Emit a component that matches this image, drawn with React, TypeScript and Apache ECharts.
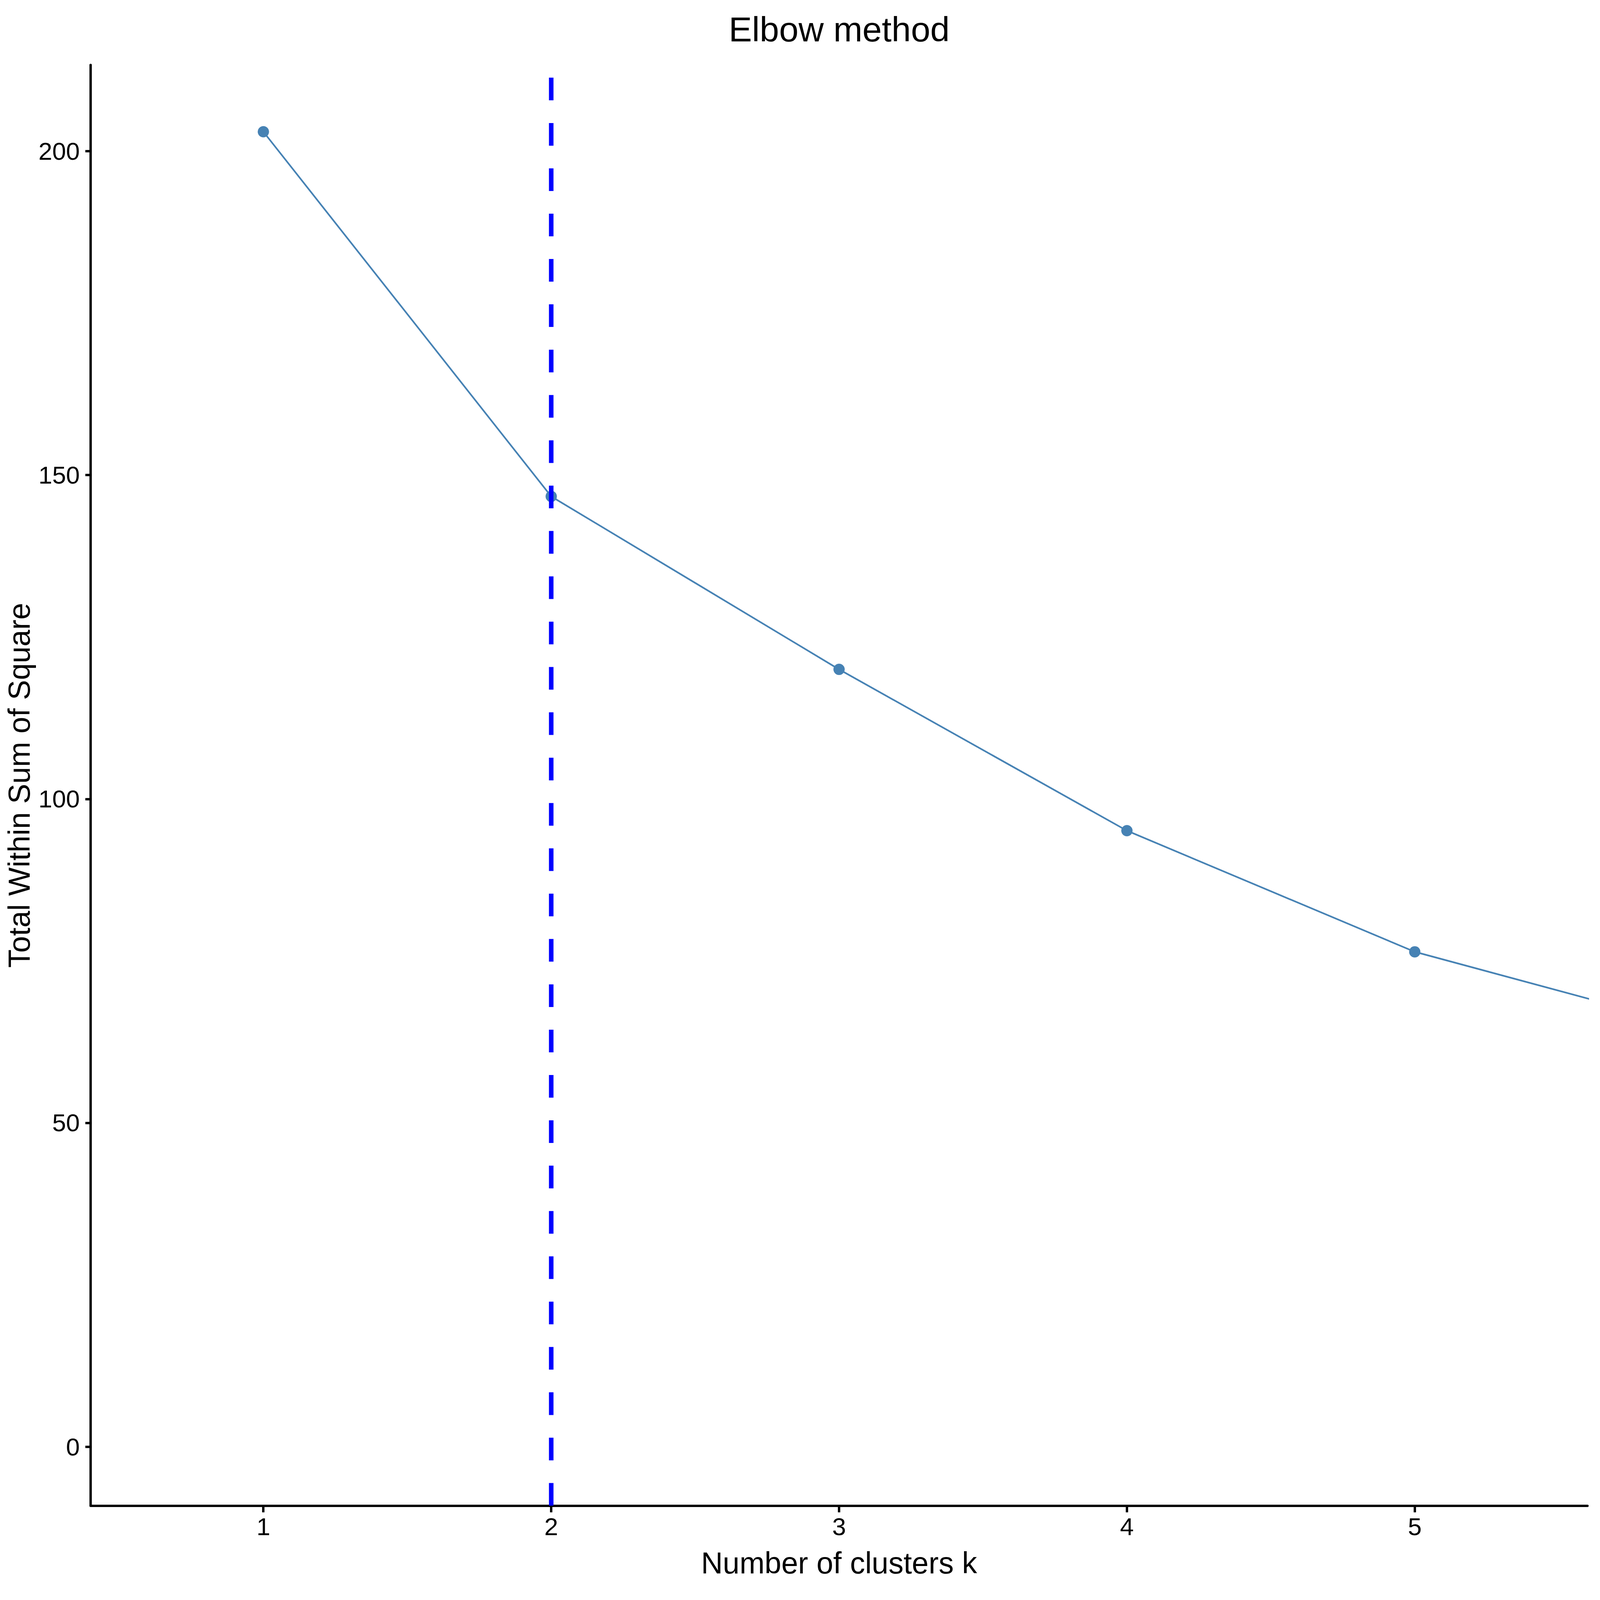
import React, { useEffect, useRef } from "react";
import * as echarts from "echarts";

const clusters = [1, 2, 3, 4, 5, 6];
const totalWithinSS = [203.0, 146.7, 120.0, 95.1, 76.4, 64.4];
const xTicks = [1, 2, 3, 4, 5];
const yTicks = [0, 50, 100, 150, 200];
const optimalK = 2;
const xRange = [0.4, 5.6];
const yRange = [-9.1, 213.3];

const FONT = "'Liberation Sans', Arial, Helvetica, sans-serif";
const BASE_W = 6000;
const BASE_H = 4800;

export default function App() {
  const ref = useRef<HTMLDivElement>(null);
  const W = Math.min(BASE_W, window.innerWidth || BASE_W);
  const H = Math.min(BASE_H, window.innerHeight || BASE_H);
  useEffect(() => {
    if (!ref.current) return;
    const sx = W / BASE_W;
    const sy = H / BASE_H;
    const f = Math.sqrt(sx * sy);
    const chart = echarts.init(ref.current, null, { renderer: "svg" });
    const lineData = clusters.map((k, i) => [k, totalWithinSS[i]]);
    chart.setOption({
      animation: false,
      backgroundColor: "#ffffff",
      textStyle: { fontFamily: FONT },
      title: {
        text: "Elbow method",
        left: 3147 * sx,
        top: 36 * sy,
        textAlign: "center",
        padding: 0,
        textStyle: { fontFamily: FONT, fontSize: 117 * f, fontWeight: "normal", color: "#000" },
      },
      grid: { left: 340 * sx, right: 47 * sx, top: 195 * sy, bottom: 283 * sy, containLabel: false },
      xAxis: {
        type: "value",
        min: xRange[0],
        max: xRange[1],
        name: "Number of clusters k",
        nameLocation: "middle",
        nameGap: 126 * sy,
        nameTextStyle: { fontFamily: FONT, fontSize: 101 * f, color: "#000" },
        axisLine: { show: true, onZero: false, lineStyle: { color: "#000", width: 8 * f } },
        axisTick: { show: true, length: 20 * sy, lineStyle: { color: "#000", width: 8 * f }, customValues: xTicks },
        axisLabel: { show: true, margin: 26 * sy, fontFamily: FONT, fontSize: 83 * f, color: "#000", customValues: xTicks },
        splitLine: { show: false },
      },
      yAxis: {
        type: "value",
        min: yRange[0],
        max: yRange[1],
        name: "Total Within Sum of Square",
        nameLocation: "middle",
        nameGap: 191 * sx,
        nameTextStyle: { fontFamily: FONT, fontSize: 101 * f, color: "#000" },
        axisLine: { show: true, onZero: false, lineStyle: { color: "#000", width: 8 * f } },
        axisTick: { show: true, length: 20 * sx, lineStyle: { color: "#000", width: 8 * f }, customValues: yTicks },
        axisLabel: { show: true, margin: 41 * sx, fontFamily: FONT, fontSize: 83 * f, color: "#000", customValues: yTicks },
        splitLine: { show: false },
      },
      series: [
        {
          type: "line",
          data: lineData,
          clip: true,
          symbol: "circle",
          symbolSize: 38 * f,
          showAllSymbol: true,
          itemStyle: { color: "#4682B4" },
          lineStyle: { color: "#4682B4", width: 5.5 * f },
          z: 2,
        },
        {
          type: "line",
          data: [
            [optimalK, yRange[0]],
            [optimalK, yRange[1]],
          ],
          symbol: "none",
          clip: true,
          lineStyle: { color: "#0000FF", width: 17 * sx, type: [68 * sy, 68 * sy], cap: "butt" },
          z: 3,
        },
      ],
    });
    return () => chart.dispose();
  }, [W, H]);
  return (
    <div
      ref={ref}
      style={{ position: "absolute", left: 0, top: 0, width: W, height: H }}
    />
  );
}
